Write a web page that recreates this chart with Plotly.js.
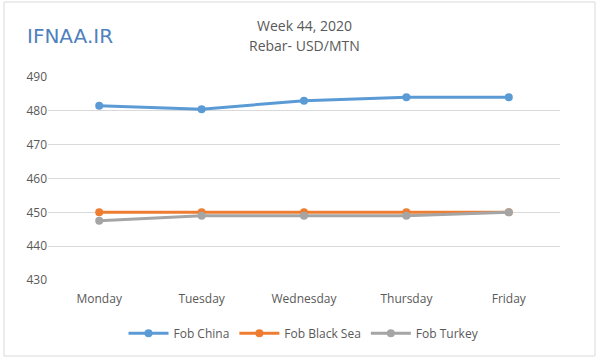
<!DOCTYPE html>
<html><head><meta charset="utf-8">
<script src="https://cdn.plot.ly/plotly-3.0.1.min.js"></script>
<style>body{margin:0;background:#fff}#c{width:600px;height:360px}</style>
</head><body><div id="c"></div>
<script>
const days = ["Monday","Tuesday","Wednesday","Thursday","Friday"];
const fobChina = [481.5, 480.5, 483, 484, 484];
const fobBlackSea = [450, 450, 450, 450, 450];
const fobTurkey = [447.5, 449, 449, 449, 450];
const seriesNames = ["Fob China","Fob Black Sea","Fob Turkey"];
const colors = ["#5b9bd5","#ed7d31","#a5a5a5"];
const yTicks = [430,440,450,460,470,480,490];

const font = "Open Sans, Liberation Sans, sans-serif";
const data = [fobChina, fobBlackSea, fobTurkey].map((v,i)=>({
  x: days, y: v, name: seriesNames[i], type:"scatter", mode:"lines+markers",
  line:{color:colors[i], width:3}, marker:{color:colors[i], size:8}
}));
const layout = {
  width:600, height:360,
  margin:{l:48, r:40, t:77, b:80},
  paper_bgcolor:"#fff", plot_bgcolor:"#fff",
  font:{family:font, color:"#595959", size:12},
  showlegend:true,
  legend:{orientation:"h", x:0.5, xanchor:"center", y:-0.262, yanchor:"middle",
    font:{size:12, color:"#595959"}, itemwidth:40, traceorder:"normal"},
  xaxis:{type:"category", range:[-0.5,4.5], showgrid:false, showline:false, zeroline:false,
    ticks:"", ticklabelstandoff:10, tickfont:{size:12, color:"#595959"}},
  yaxis:{range:[430,490], tickvals:yTicks, showgrid:true, gridcolor:"#d9d9d9", gridwidth:1,
    zeroline:false, showline:false, ticks:"", tickfont:{size:12, color:"#595959"}},
  annotations:[
    {text:"Week 44, 2020", xref:"paper", yref:"paper", x:0.5, y:1, xanchor:"center", yanchor:"bottom",
     yshift:40, showarrow:false, font:{size:14, color:"#595959", family:font}},
    {text:"Rebar- USD/MTN", xref:"paper", yref:"paper", x:0.5, y:1, xanchor:"center", yanchor:"bottom",
     yshift:20, showarrow:false, font:{size:14, color:"#595959", family:font}},
    {text:"IFNAA.IR", xref:"paper", yref:"paper", x:-0.045, y:1, xanchor:"left", yanchor:"bottom",
     yshift:27, showarrow:false, font:{size:20, color:"#4f81bd", family:"DejaVu Sans, sans-serif"}}
  ],
  shapes:[
    {type:"rect", xref:"paper", yref:"paper", x0:-44/512, x1:(595-48)/512, y0:-(356-280)/203, y1:(280-2)/203,
     line:{color:"#d9d9d9", width:1}}
  ]
};
Plotly.newPlot("c", data, layout, {displayModeBar:false, staticPlot:true});
</script></body></html>
